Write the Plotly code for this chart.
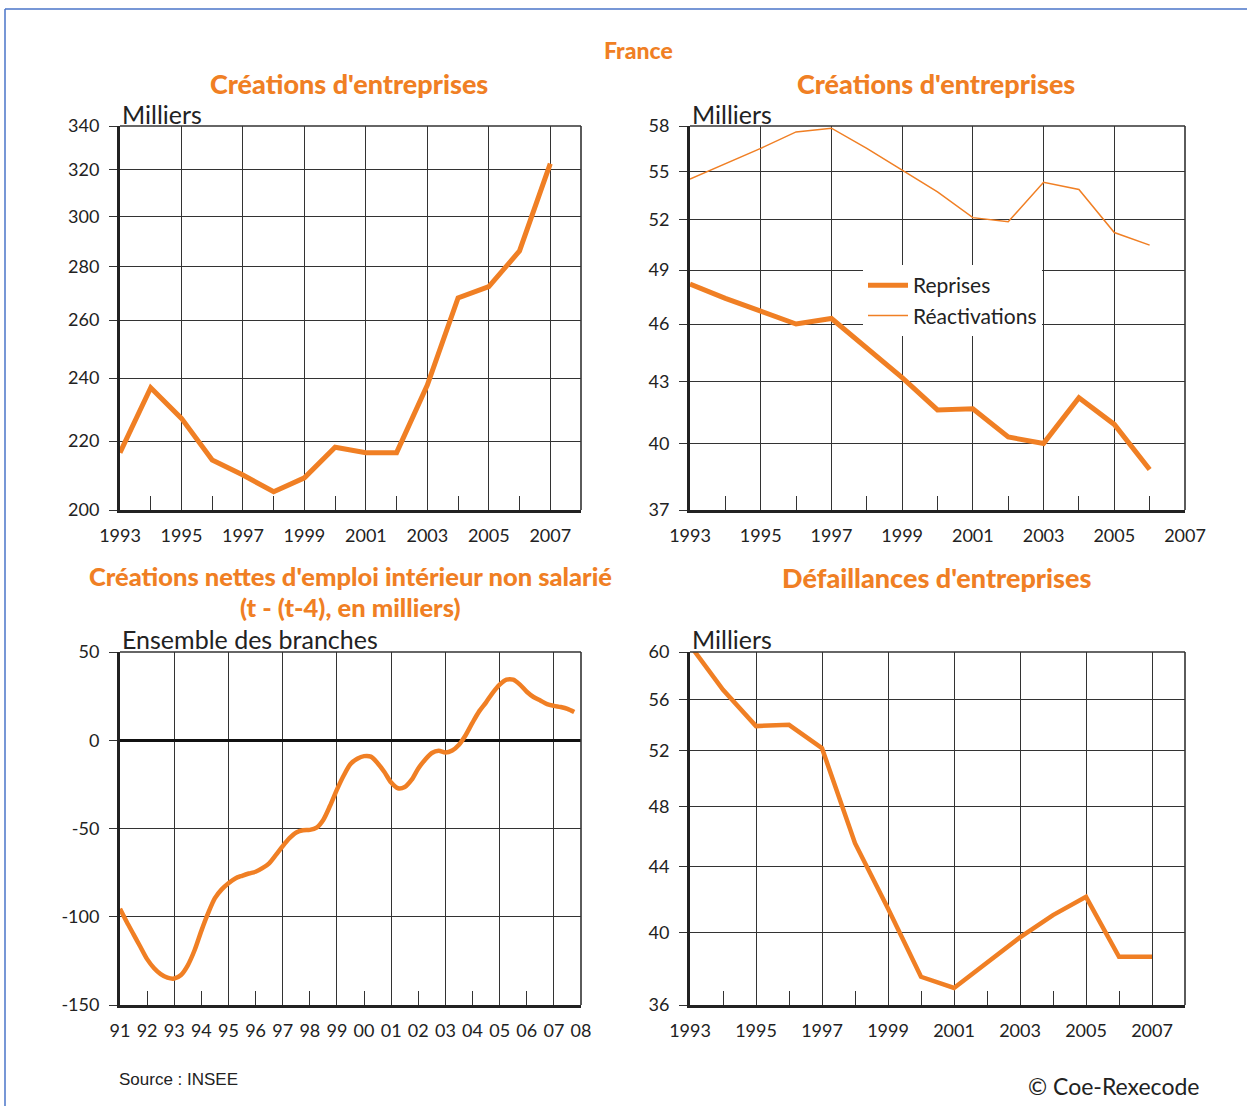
import math
import plotly.graph_objects as go

# ---------------- data ----------------
years_creations = [1993, 1994, 1995, 1996, 1997, 1998, 1999, 2000, 2001, 2002, 2003, 2004, 2005, 2006, 2007]
creations = [216.5, 236.8, 227.0, 214.3, 209.9, 205.1, 209.1, 218.1, 216.5, 216.5, 237.7, 268.1, 272.3, 286.1, 322.8]

years_reprises = [1993, 1994, 1995, 1996, 1997, 1998, 1999, 2000, 2001, 2002, 2003, 2004, 2005, 2006]
reprises = [48.2, 47.4, 46.7, 46.0, 46.3, 44.7, 43.2, 41.6, 41.65, 40.3, 40.0, 42.2, 40.9, 38.8]
reactivations = [54.5, 55.5, 56.5, 57.6, 57.85, 56.5, 55.1, 53.7, 52.1, 51.85, 54.3, 53.85, 51.2, 50.45]

quarters = [1991 + k / 4 for k in range(68)]
emploi_non_salarie = [
    -95.5, -103, -110, -117, -124, -129, -132.5, -134.5,
    -135, -133, -127.5, -119, -108, -98, -89.5, -84.5,
    -81, -78.3, -76.8, -75.5, -74.5, -72.5, -69.7, -65,
    -60, -55.5, -52.3, -51, -50.8, -49.5, -45, -37,
    -28, -20, -13.5, -10.5, -9, -9.3, -13, -18,
    -24, -27.2, -26.5, -22.5, -16, -11, -7.2, -6,
    -7, -5.8, -2.5, 3, 10, 16.5, 21.5, 27,
    31.5, 34.3, 34.3, 31.5, 27.5, 24.5, 22.5, 20.5,
    19.5, 18.8, 17.8, 16,
]

years_defaillances = [1993, 1994, 1995, 1996, 1997, 1998, 1999, 2000, 2001, 2002, 2003, 2004, 2005, 2006, 2007]
defaillances = [60.6, 56.8, 53.9, 54.0, 52.2, 45.5, 41.4, 37.5, 36.9, 38.3, 39.7, 41.0, 42.1, 38.6, 38.6]

ticks_creations = [200, 220, 240, 260, 280, 300, 320, 340]
ticks_reprises = [37, 40, 43, 46, 49, 52, 55, 58]
ticks_emploi = [-150, -100, -50, 0, 50]
ticks_defaillances = [36, 40, 44, 48, 52, 56, 60]
odd_years = [1993, 1995, 1997, 1999, 2001, 2003, 2005, 2007]
even_years = [1994, 1996, 1998, 2000, 2002, 2004, 2006]
years_bl = list(range(1991, 2009))
labels_bl = ["91", "92", "93", "94", "95", "96", "97", "98", "99", "00",
             "01", "02", "03", "04", "05", "06", "07", "08"]

# ---------------- style ----------------
W, H = 1247, 1106
ORANGE = "#F07F24"
TXT = "#222222"
GRID = "#333333"
FONT = "Lato, 'Open Sans', sans-serif"


def dx(a, b):
    return [a / W, b / W]


def dy(top, bottom):
    return [1 - bottom / H, 1 - top / H]


fig = go.Figure()

fig.add_trace(go.Scatter(x=years_creations, y=creations, mode="lines",
                         line=dict(color=ORANGE, width=5), showlegend=False,
                         xaxis="x", yaxis="y", cliponaxis=False))
fig.add_trace(go.Scatter(x=years_reprises, y=reprises, mode="lines", name="Reprises",
                         line=dict(color=ORANGE, width=5),
                         xaxis="x2", yaxis="y2", cliponaxis=False))
fig.add_trace(go.Scatter(x=years_reprises, y=reactivations, mode="lines", name="Réactivations",
                         line=dict(color=ORANGE, width=1.5),
                         xaxis="x2", yaxis="y2", cliponaxis=False))
fig.add_trace(go.Scatter(x=quarters, y=emploi_non_salarie, mode="lines",
                         line=dict(color=ORANGE, width=4.5, shape="spline", smoothing=0.8),
                         showlegend=False, xaxis="x3", yaxis="y3", cliponaxis=False))
fig.add_trace(go.Scatter(x=years_defaillances, y=defaillances, mode="lines",
                         line=dict(color=ORANGE, width=4.5), showlegend=False,
                         xaxis="x4", yaxis="y4", cliponaxis=False))

tickfont = dict(family=FONT, size=18, color=TXT)


def xax(domain, rng, anchor, tickvals, ticktext, minorvals):
    return dict(domain=domain, range=rng, anchor=anchor, tickmode="array",
                tickvals=tickvals, ticktext=ticktext, ticks="",
                showgrid=True, gridcolor=GRID, gridwidth=1.3,
                showline=True, linewidth=3, linecolor=TXT, zeroline=False,
                automargin=False, tickfont=tickfont, ticklabelstandoff=7,
                fixedrange=True,
                minor=dict(tickmode="array", tickvals=minorvals, ticks="inside",
                           ticklen=14, tickwidth=1.3, tickcolor=GRID,
                           showgrid=False))


def yax(domain, rng, anchor, tickvals, typ="linear"):
    return dict(domain=domain, range=rng, anchor=anchor, type=typ, tickmode="array",
                tickvals=tickvals, ticktext=[str(v) for v in tickvals],
                ticks="outside", ticklen=8, tickwidth=1.3, tickcolor=GRID,
                showgrid=True, gridcolor=GRID, gridwidth=1.3,
                showline=True, linewidth=3, linecolor=TXT, zeroline=False,
                automargin=False, tickfont=tickfont, ticklabelstandoff=6,
                fixedrange=True)


x1 = xax(dx(120, 581), [1993, 2008], "y", odd_years, [str(v) for v in odd_years], even_years)
x2 = xax(dx(690, 1185), [1993, 2007], "y2", odd_years, [str(v) for v in odd_years], even_years)
x3 = xax(dx(120, 581), [1991, 2008], "y3", years_bl, labels_bl, odd_years)
x3.update(showgrid=False, ticks="inside", ticklen=14, tickwidth=1.3, tickcolor=GRID)
x3["minor"] = dict(tickmode="array", tickvals=odd_years, ticks="", showgrid=True,
                   gridcolor=GRID, gridwidth=1.3)
x4 = xax(dx(690, 1185), [1993, 2008], "y4", odd_years, [str(v) for v in odd_years], even_years)

y1 = yax(dy(126, 510), [math.log10(200), math.log10(340)], "x", ticks_creations, "log")
y2 = yax(dy(126, 510), [math.log10(37), math.log10(58)], "x2", ticks_reprises, "log")
y3 = yax(dy(652, 1005), [-150, 50], "x3", ticks_emploi)
y3.update(zeroline=True, zerolinewidth=3, zerolinecolor="#111111")
y4 = yax(dy(652, 1005), [math.log10(36), math.log10(60)], "x4", ticks_defaillances, "log")

fig.update_layout(
    template="none",
    autosize=False,
    width=W, height=H, margin=dict(l=0, r=0, t=0, b=0, pad=0, autoexpand=False),
    paper_bgcolor="white", plot_bgcolor="white",
    font=dict(family=FONT, color=TXT),
    showlegend=True,
    legend=dict(x=863 / W, y=1 - 265 / H, xanchor="left", yanchor="top",
                bgcolor="white", borderwidth=0,
                font=dict(family=FONT, size=21, color=TXT),
                itemwidth=40, tracegroupgap=0),
    xaxis=x1, xaxis2=x2, xaxis3=x3, xaxis4=x4,
    yaxis=y1, yaxis2=y2, yaxis3=y3, yaxis4=y4,
)

# top & right borders of each plot
shapes = []
for xs, ys in [("x", "y"), ("x2", "y2"), ("x3", "y3"), ("x4", "y4")]:
    shapes.append(dict(type="line", xref=f"{xs} domain", yref=f"{ys} domain",
                       x0=0, x1=1, y0=1, y1=1, line=dict(color=GRID, width=1.6)))
    shapes.append(dict(type="line", xref=f"{xs} domain", yref=f"{ys} domain",
                       x0=1, x1=1, y0=0, y1=1, line=dict(color=GRID, width=1.6)))
# blue frame
shapes.append(dict(type="line", xref="paper", yref="paper", x0=5 / W, x1=5 / W,
                   y0=0, y1=1 - 9 / H, line=dict(color="#4A74C8", width=1.5)))
shapes.append(dict(type="line", xref="paper", yref="paper", x0=5 / W, x1=1,
                   y0=1 - 9 / H, y1=1 - 9 / H, line=dict(color="#4A74C8", width=1.5)))
fig.update_layout(shapes=shapes)


def ann(text, x, y, size, color=TXT, weight=400, xanchor="center", family=FONT):
    return dict(text=text, x=x / W, y=1 - y / H,
                xref="paper", yref="paper", xanchor=xanchor, yanchor="middle",
                showarrow=False,
                font=dict(family=family, size=size, color=color, weight=weight))


annotations = [
    ann("France", 638, 50, 23, ORANGE, 900),
    ann("Créations d'entreprises", 349, 83, 27, ORANGE, 900),
    ann("Créations d'entreprises", 936, 83, 27, ORANGE, 900),
    ann("Créations nettes d'emploi intérieur non salarié", 350, 576, 25.5, ORANGE, 900),
    ann("(t - (t-4), en milliers)", 350, 607, 25.5, ORANGE, 900),
    ann("Défaillances d'entreprises", 936, 577, 27, ORANGE, 900),
    ann("Milliers", 120, 114, 25, TXT, 400, "left"),
    ann("Milliers", 690, 114, 25, TXT, 400, "left"),
    ann("Ensemble des branches", 120, 639, 25, TXT, 400, "left"),
    ann("Milliers", 690, 639, 25, TXT, 400, "left"),
    ann("Source : INSEE", 117, 1079, 17, TXT, 400, "left",
        "'Liberation Sans Narrow', 'Arial Narrow', sans-serif"),
    ann("© Coe-Rexecode", 1201, 1086, 23, TXT, 400, "right"),
]
fig.update_layout(annotations=annotations)

fig.write_html(
    "out.html",
    config={"displayModeBar": False},
    post_script="document.body.style.margin='0';document.body.style.padding='0';"
                "document.documentElement.style.overflow='hidden';",
)
